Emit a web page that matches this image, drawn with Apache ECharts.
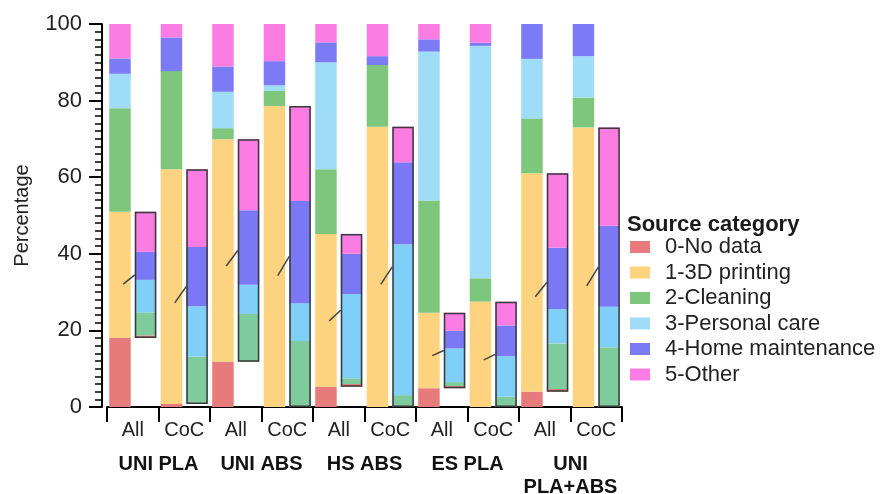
<!DOCTYPE html>
<html>
<head>
<meta charset="utf-8">
<script src="https://cdn.jsdelivr.net/npm/echarts@6/dist/echarts.min.js"></script>
<style>html,body{margin:0;padding:0;background:#fff;}#c{width:885px;height:494px;}</style>
</head>
<body>
<div id="c"></div>
<script>
// ---- data ----
const categories = ['All','CoC','All','CoC','All','CoC','All','CoC','All','CoC'];
const groups = ['UNI PLA','UNI ABS','HS ABS','ES PLA','UNI\nPLA+ABS'];
const seriesNames = ['0-No data','1-3D printing','2-Cleaning','3-Personal care','4-Home maintenance','5-Other'];

// main stacked bars (percentage of all sources)
const noData    = [18, 0.8, 11.8, 0, 5.3, 0, 4.9, 0, 4.0, 0];
const printing  = [33, 61.3, 58.1, 78.6, 39.9, 73.2, 19.7, 27.5, 57.0, 73.0];
const cleaning  = [27, 25.6, 2.9, 3.9, 16.9, 16.1, 29.3, 6.1, 14.2, 7.8];
const personal  = [9, 0, 9.5, 1.5, 27.9, 0, 38.9, 60.7, 15.7, 10.8];
const home      = [4, 8.8, 6.6, 6.3, 5.2, 2.3, 3.2, 0.8, 9.1, 8.4];
const other     = [9, 3.5, 11.1, 9.7, 4.8, 8.4, 4.0, 4.9, 0, 0];

// breakdown of the 3D printing share
const bdNoData   = [0.7, 0, 0, 0, 0.7, 0, 0.6, 0, 0.7, 0];
const bdCleaning = [6, 12.4, 12.5, 17.2, 1.5, 3.1, 1.0, 2.7, 11.9, 15.6];
const bdPersonal = [8.5, 13.1, 7.6, 9.9, 22, 39.4, 8.8, 10.6, 9.0, 10.6];
const bdHome     = [7.3, 15.5, 19.5, 26.7, 10.5, 21.4, 4.6, 8, 16.0, 21.1];
const bdOther    = [10.5, 20.3, 18.5, 24.8, 5.2, 9.3, 4.7, 6.2, 19.4, 25.7];

// connector line start value (inside the 3D printing segment)
const linkFrom = [32.1, 27.2, 36.8, 34.3, 22.5, 32.0, 13.4, 12.3, 28.8, 31.6];

// ---- styles ----
const FONT = "'Liberation Sans', Arial, Helvetica, sans-serif";
const mainColors = ['#e77b7b','#fdd37f','#7dc67c','#9edcf8','#7b7bf6','#fb7de3'];
const bdColors = {noData:'#e77b7b', cleaning:'#7ecb9d', personal:'#80cff9', home:'#7b78f5', other:'#fb7de3'};
const BW = 21.5, GAP = '19%';

const mainData = [noData, printing, cleaning, personal, home, other];
const series = [];
mainData.forEach((d, i) => {
  series.push({
    name: seriesNames[i], type: 'bar', stack: 'main', xAxisIndex: 0,
    barWidth: BW, barGap: GAP, data: d,
    itemStyle: {color: mainColors[i]}, silent: true
  });
});
// breakdown stack
series.push({name:'bd-base', type:'bar', stack:'bd', xAxisIndex:0, barWidth:BW, barGap:GAP,
  data: noData, itemStyle:{color:'rgba(0,0,0,0)'}, silent:true});
[['bd0', bdNoData, bdColors.noData], ['bd2', bdCleaning, bdColors.cleaning], ['bd3', bdPersonal, bdColors.personal],
 ['bd4', bdHome, bdColors.home], ['bd5', bdOther, bdColors.other]].forEach(([n, d, c]) => {
  series.push({name:n, type:'bar', stack:'bd', xAxisIndex:0, barWidth:BW, barGap:GAP,
    data:d, itemStyle:{color:c}, silent:true});
});
// outline of breakdown bars (hidden twin axis)
series.push({name:'o-main', type:'bar', stack:'om', xAxisIndex:1, barWidth:BW, barGap:GAP,
  data: categories.map(() => 0), itemStyle:{color:'rgba(0,0,0,0)'}, silent:true});
series.push({name:'o-base', type:'bar', stack:'ob', xAxisIndex:1, barWidth:BW, barGap:GAP,
  data: noData, itemStyle:{color:'rgba(0,0,0,0)'}, silent:true});
series.push({name:'o-box', type:'bar', stack:'ob', xAxisIndex:1, barWidth:BW, barGap:GAP,
  data: printing, itemStyle:{color:'rgba(0,0,0,0)', borderColor:'#3a3a3a', borderWidth:1.5}, silent:true, z:5});
// connector lines
series.push({
  name:'links', type:'custom', xAxisIndex:0, yAxisIndex:0, silent:true, z:6,
  data: categories.map((c, i) => [i, linkFrom[i], noData[i] + printing[i] / 2]),
  encode: {x:0, y:[1,2]},
  renderItem: function (params, api) {
    const i = api.value(0);
    const p1 = api.coord([i, api.value(1)]);
    const p2 = api.coord([i, api.value(2)]);
    const xEnd = p1[0] + 2;
    return {type:'line', shape:{x1:xEnd - 11.5, y1:p1[1], x2:xEnd, y2:p2[1]},
      style:{stroke:'#444', lineWidth:1.5}};
  }
});

const chart = echarts.init(document.getElementById('c'), null, {renderer:'canvas'});
chart.setOption({
  animation: false,
  backgroundColor: '#fff',
  textStyle: {fontFamily: FONT},
  title: {
    text: 'Source category', left: 622, top: 209,
    textStyle: {fontFamily: FONT, fontSize: 22, fontWeight: 'bold', color: '#1a1a1a'}
  },
  legend: {
    data: seriesNames, orient: 'vertical', left: 630, top: 236, padding: 0,
    itemWidth: 20, itemHeight: 12, itemGap: 3.5, icon: 'rect', selectedMode: false,
    textStyle: {fontFamily: FONT, fontSize: 22, color: '#222', padding: [0,0,0,10]}
  },
  grid: {left: 107, right: 263, top: 24, bottom: 87, containLabel: false, outerBoundsMode: 'none'},
  xAxis: [
    {type:'category', data: categories, position:'bottom',
     axisLine:{lineStyle:{color:'#000', width:2}},
     axisTick:{show:true, interval:0, length:15, lineStyle:{color:'#000', width:2}},
     axisLabel:{interval:0, fontFamily:FONT, fontSize:20, color:'#222', margin:13}},
    {type:'category', data: categories, show:false},
    {type:'category', data: groups, position:'bottom',
     axisLine:{show:false}, axisTick:{show:false},
     axisLabel:{interval:0, fontFamily:FONT, fontSize:20, fontWeight:'bold', color:'#111', margin:46, lineHeight:23}}
  ],
  yAxis: {
    type:'value', min:0, max:100, interval:20, offset:5,
    name:'Percentage', nameLocation:'middle', nameGap:70, nameRotate:90,
    nameTextStyle:{fontFamily:FONT, fontSize:20, color:'#222'},
    axisLine:{show:true, lineStyle:{color:'#000', width:2}},
    axisTick:{show:true, length:13, lineStyle:{color:'#000', width:2}},
    minorTick:{show:true, splitNumber:10, length:7, lineStyle:{color:'#000', width:1.5}},
    splitLine:{show:false},
    axisLabel:{fontFamily:FONT, fontSize:22, color:'#222', margin:20}
  },
  series: series
});
</script>
</body>
</html>
